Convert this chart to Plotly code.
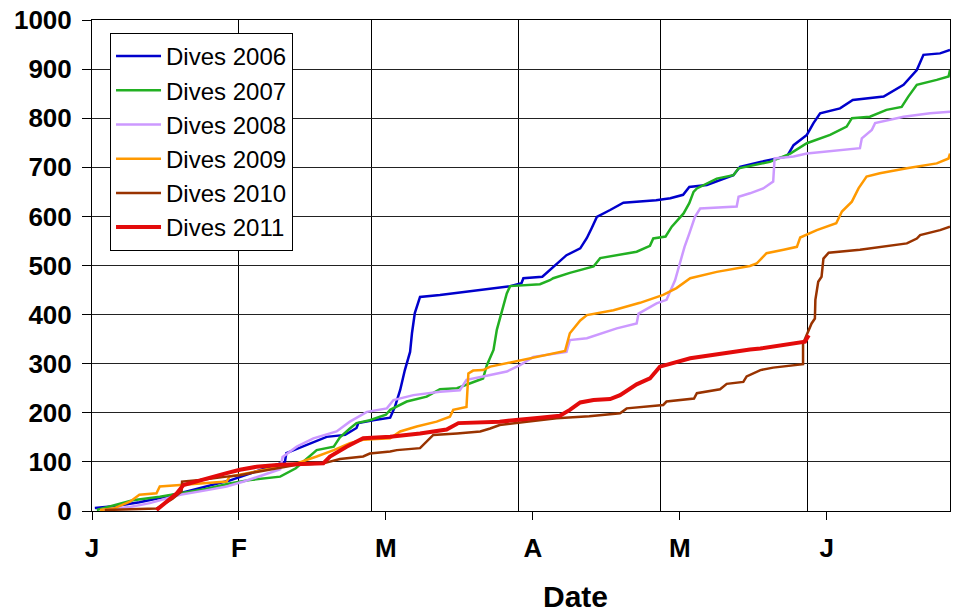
import plotly.graph_objects as go

# (day since 1 Jan, cumulative dives)
dives_2006 = [(0.6, 6), (5, 10), (10, 18), (15, 28), (20, 40), (25, 52), (29, 62), (34.4, 80), (40.7, 100),
              (41, 118), (45.3, 134), (49.5, 151), (53.4, 155), (55.8, 169), (56.2, 179), (59.3, 185), (62.9, 190),
              (63.9, 212), (65, 246), (66, 287), (67.1, 324), (67.5, 362), (68.1, 403), (69.2, 436), (73.4, 440),
              (81.2, 450), (88.2, 458), (90.6, 464), (91, 474), (95, 477), (97.3, 497), (100.1, 521), (103, 535),
              (104.4, 556), (105.4, 576), (106.5, 599), (109.3, 613), (112.1, 628), (119, 633), (122, 637),
              (124.7, 644), (126, 660), (129.7, 664), (135.3, 684), (136.7, 701), (141, 711), (146.6, 722),
              (148, 745), (150.8, 766), (152.2, 790), (153.6, 810), (157.8, 820), (160.5, 837), (167, 844),
              (171.2, 868), (174, 898), (175.4, 929), (178.9, 932), (181, 939)]

dives_2007 = [(1, 2), (5, 12), (8.6, 22), (14.3, 29), (18.6, 36), (24, 45), (29, 56), (33.3, 63), (39.7, 70),
              (43, 87), (45, 104), (47.4, 124), (51, 131), (52.3, 150), (54.4, 168), (55.8, 179), (58.6, 185),
              (62, 196), (62.9, 206), (66.4, 223), (70.6, 233), (73.4, 248), (77, 250), (79.7, 260), (82.5, 270),
              (83.3, 297), (84.7, 328), (85.4, 369), (86.4, 403), (87.5, 443), (88.2, 458), (94.5, 462),
              (96.6, 470), (97.3, 474), (100.8, 485), (105.8, 498), (107.2, 515), (114.9, 528), (117.7, 540),
              (118.4, 555), (121, 559), (122.3, 579), (124.8, 606), (126, 627), (126.9, 650), (127.6, 657),
              (131.8, 677), (135.3, 684), (136.4, 698), (140.2, 705), (143, 711), (147.3, 728), (150.8, 749),
              (155.7, 766), (159.2, 783), (160.3, 800), (164.1, 803), (167.6, 817), (170.8, 823), (172.2, 844),
              (174, 868), (178.2, 878), (180.7, 885), (181, 898)]

dives_2008 = [(2, 2), (8, 8), (12.2, 16), (18.6, 33), (24, 42), (28.4, 50), (32, 60), (39.7, 85), (40.2, 110),
              (43.2, 131), (46.7, 148), (51.6, 162), (54.4, 182), (58, 202), (62.2, 209), (63.6, 226), (67.8, 236),
              (73.4, 243), (77.6, 246), (79, 267), (82.5, 274), (87.5, 284), (90.3, 297), (93.1, 314),
              (100.1, 324), (100.8, 348), (104.4, 352), (110.7, 372), (114.9, 382), (115.3, 402), (119.1, 423),
              (121.2, 430), (123, 470), (124, 504), (125, 538), (126, 565), (127.2, 599), (128.3, 616), (136, 620),
              (136.4, 640), (138.8, 647), (141.6, 657), (143.7, 671), (144, 718), (148, 722), (150.8, 728),
              (155, 732), (162, 739), (162.4, 759), (164.5, 776), (165.2, 790), (171.2, 803), (176.8, 810),
              (181, 813)]

dives_2009 = [(1.7, 2), (4.5, 5), (8, 19), (10, 33), (13.6, 36), (14.3, 50), (18.6, 53), (28.4, 60), (29, 70),
              (36, 84), (43.2, 97), (47.4, 111), (51, 124), (54.4, 138), (57.2, 145), (62.9, 148), (65, 162),
              (68.5, 172), (72.7, 182), (75.5, 192), (76.2, 206), (79, 212), (79.4, 280), (80.4, 286), (82.5, 287),
              (84, 294), (88.9, 304), (92.4, 311), (95.9, 318), (99.8, 326), (100.8, 362), (103, 388),
              (104.4, 399), (110, 409), (115.6, 424), (120.5, 440), (123.3, 454), (126.2, 474), (131.8, 487),
              (138.8, 499), (140.2, 504), (142.3, 525), (145.9, 532), (148.7, 538), (149.4, 557), (152.9, 572),
              (157, 586), (158.2, 610), (160.3, 630), (161.7, 657), (163.4, 681), (166.2, 688), (171.9, 698),
              (178.2, 708), (180.7, 718), (181, 728)]

dives_2010 = [(2.7, 2), (13.6, 5), (17, 25), (18.9, 40), (19, 60), (22.8, 63), (28.4, 70), (31.2, 73),
              (33.3, 77), (43.2, 94), (48.8, 97), (52.3, 106), (57.2, 111), (58.6, 117), (62.9, 121), (64.3, 124),
              (69.2, 128), (70.6, 141), (72, 155), (77, 158), (81.9, 162), (84, 168), (86, 175), (91.7, 182),
              (98, 189), (104.9, 193), (111.4, 199), (112.8, 209), (120.5, 216), (121.2, 223), (127, 229),
              (127.6, 240), (132.5, 248), (133.9, 259), (137.4, 263), (138.1, 274), (141, 287), (143.7, 292),
              (150, 299), (150, 341), (151.8, 382), (152.5, 392), (152.6, 430), (153.2, 467), (153.9, 477),
              (154.3, 514), (155.4, 526), (162, 532), (167, 538), (171.9, 545), (174, 555), (174.7, 562),
              (178.9, 572), (181, 579)]

dives_2011 = [(13.6, 2), (15.8, 19), (17.9, 36), (19.3, 53), (22.8, 63), (28.4, 77), (31.2, 84), (34.7, 90),
              (39.7, 94), (48.8, 97), (50.2, 111), (53.7, 131), (57.2, 148), (62.9, 151), (69.2, 158), (74.8, 166),
              (77.3, 179), (86, 182), (94.5, 190), (98.7, 194), (100.8, 206), (103, 221), (105.8, 226),
              (109.3, 228), (111.4, 236), (114.9, 258), (117.7, 270), (119.8, 294), (126.2, 311), (132.8, 321),
              (138.8, 329), (141, 331), (148.7, 342), (150.4, 345), (151.2, 358)]

series_names = ["Dives 2006", "Dives 2007", "Dives 2008", "Dives 2009", "Dives 2010", "Dives 2011"]
series_data = [dives_2006, dives_2007, dives_2008, dives_2009, dives_2010, dives_2011]
series_colors = ["#0000CC", "#22B022", "#CC99FF", "#FF9900", "#993300", "#E30B0B"]
series_widths = [2.5, 2.5, 2.5, 2.5, 2.5, 4]

month_starts = [0, 31, 59, 90, 120, 151]
label_days = [0, 31, 62, 93, 124, 155]
month_labels = ["J", "F", "M", "A", "M", "J"]
y_ticks = list(range(0, 1001, 100))

fig = go.Figure()
for name, pts, color, w in zip(series_names, series_data, series_colors, series_widths):
    fig.add_trace(go.Scatter(
        x=[p[0] for p in pts], y=[p[1] for p in pts], mode="lines", name=name,
        line=dict(color=color, width=w)))

FONT = "Liberation Sans, Arial, sans-serif"
fig.update_layout(
    width=953, height=613,
    margin=dict(l=92, r=3, t=20, b=102, autoexpand=False),
    paper_bgcolor="white", plot_bgcolor="white",
    font=dict(family=FONT, color="black"),
    xaxis=dict(
        range=[0, 181], tickmode="array", tickvals=label_days, ticktext=month_labels,
        ticks="outside", ticklen=8, tickcolor="black", tickwidth=1,
        showgrid=False, showline=True, linecolor="black", linewidth=1, mirror=True,
        zeroline=False, tickfont=dict(size=26, weight="bold", family=FONT),
        ticklabelstandoff=6, automargin=False,
        minor=dict(tickmode="array", tickvals=month_starts, showgrid=True,
                   gridcolor="black", gridwidth=1, ticks=""),
    ),
    yaxis=dict(
        range=[0, 1000], tickmode="array", tickvals=y_ticks,
        ticks="outside", ticklen=9, tickcolor="black",
        showgrid=True, gridcolor="#222222", gridwidth=1,
        showline=True, linecolor="black", linewidth=1, mirror=True, zeroline=False,
        tickfont=dict(size=26, weight="bold", family=FONT), ticklabelstandoff=5,
        automargin=False,
    ),
    legend=dict(x=0.021, y=0.9735, xanchor="left", yanchor="top",
                bordercolor="black", borderwidth=1, bgcolor="white", itemwidth=45,
                font=dict(size=24, family=FONT, color="black")),
    annotations=[dict(text="<b>Date</b>", xref="paper", yref="paper", x=0.564, y=-0.175,
                      xanchor="center", yanchor="middle", showarrow=False,
                      font=dict(size=30, family=FONT, color="black"))],
)

fig.write_html("out.html", config={"displayModeBar": False},
               post_script="document.body.style.margin='0';document.body.style.overflow='hidden';")
